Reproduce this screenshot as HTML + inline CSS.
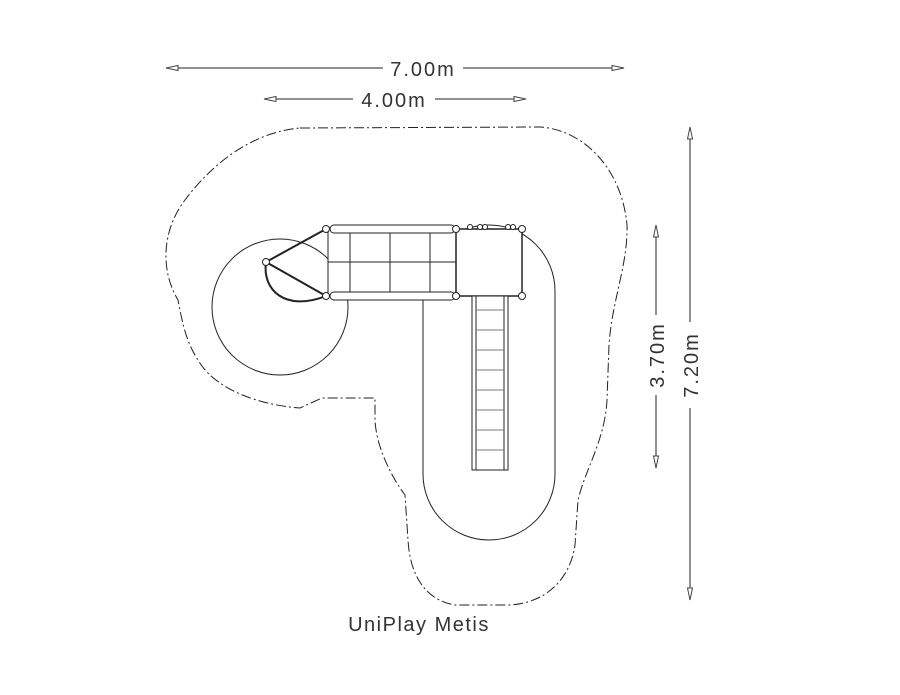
<!DOCTYPE html>
<html><head><style>body{margin:0;background:#fff}svg{display:block}</style></head><body>
<svg width="900" height="695" viewBox="0 0 900 695" xmlns="http://www.w3.org/2000/svg" font-family="'Liberation Sans',sans-serif">
<g stroke="#222" fill="none" stroke-width="1">
<path d="M300,128 L540,127 C585,130 622,170 627,225 C628,265 612,300 609,345 L607,400 C605,440 585,470 578,500 L575,545 C570,580 545,603 510,605 L455,605 C425,600 410,575 408,540 L405,495 C390,475 376,445 375,420 L375,398 L322,398 L300,408 C260,405 215,390 198,360 C185,340 182,320 178,300 C160,270 162,230 185,200 C215,160 255,132 300,128 Z" stroke-dasharray="10,3,2,3"/>
<circle cx="280" cy="307" r="68"/>
<path d="M423,291 A66,66 0 0 1 555,291 L555,474 A66,66 0 0 1 423,474 Z"/>
<rect x="328" y="229" width="128" height="67" fill="#fff"/>
<line x1="328" y1="262" x2="456" y2="262"/>
<line x1="350" y1="229" x2="350" y2="296"/><line x1="390" y1="229" x2="390" y2="296"/><line x1="430" y1="229" x2="430" y2="296"/>
<rect x="330" y="225" width="125" height="8" rx="4" fill="#fff"/>
<rect x="330" y="292" width="125" height="8" rx="4" fill="#fff"/>
<rect x="456" y="229" width="66" height="67" fill="#fff" stroke-width="1.5"/>
<path d="M326,229 L266,262 L326,296" stroke-width="2"/>
<path d="M266,262 C262,290 285,312 326,296" stroke-width="2"/>
<rect x="472" y="296" width="36" height="174" fill="#fff"/>
<line x1="476" y1="296" x2="476" y2="470"/><line x1="504" y1="296" x2="504" y2="470"/>
<g stroke="#777"><line x1="476" y1="310" x2="504" y2="310"/><line x1="476" y1="330" x2="504" y2="330"/><line x1="476" y1="350" x2="504" y2="350"/><line x1="476" y1="370" x2="504" y2="370"/><line x1="476" y1="390" x2="504" y2="390"/><line x1="476" y1="410" x2="504" y2="410"/><line x1="476" y1="430" x2="504" y2="430"/><line x1="476" y1="450" x2="504" y2="450"/></g>
<g fill="#fff"><circle cx="326" cy="229" r="3.5"/><circle cx="326" cy="296" r="3.5"/><circle cx="456" cy="229" r="3.5"/><circle cx="456" cy="296" r="3.5"/><circle cx="522" cy="229" r="3.5"/><circle cx="522" cy="296" r="3.5"/><circle cx="266" cy="262" r="3.5"/>
<circle cx="470" cy="227" r="2.5"/><circle cx="480" cy="227" r="2.5"/><circle cx="485" cy="227" r="2.5"/><circle cx="508" cy="227" r="2.5"/><circle cx="513" cy="227" r="2.5"/></g>
<line x1="166" y1="68" x2="383" y2="68"/><line x1="463" y1="68" x2="624" y2="68"/>
<line x1="264" y1="99" x2="353" y2="99"/><line x1="435" y1="99" x2="526" y2="99"/>
<line x1="690" y1="127" x2="690" y2="322"/><line x1="690" y1="408" x2="690" y2="600"/>
<line x1="656" y1="225" x2="656" y2="315"/><line x1="656" y1="395" x2="656" y2="468"/>
<g fill="#fff" stroke="#444"><path d="M166,68 l12,-2.5 v5 z"/><path d="M624,68 l-12,-2.5 v5 z"/><path d="M264,99 l12,-2.5 v5 z"/><path d="M526,99 l-12,-2.5 v5 z"/>
<path d="M690,127 l-2.5,12 h5 z"/><path d="M690,600 l-2.5,-12 h5 z"/><path d="M656,225 l-2.5,12 h5 z"/><path d="M656,468 l-2.5,-12 h5 z"/></g>
</g>
<g fill="#333" font-size="20" letter-spacing="2">
<text x="423" y="76" text-anchor="middle">7.00m</text>
<text x="394" y="107" text-anchor="middle">4.00m</text>
<text transform="translate(698,365) rotate(-90)" text-anchor="middle">7.20m</text>
<text transform="translate(664,355) rotate(-90)" text-anchor="middle">3.70m</text>
<text x="419" y="631" text-anchor="middle" letter-spacing="1.5">UniPlay Metis</text>
</g>
</svg>
</body></html>
